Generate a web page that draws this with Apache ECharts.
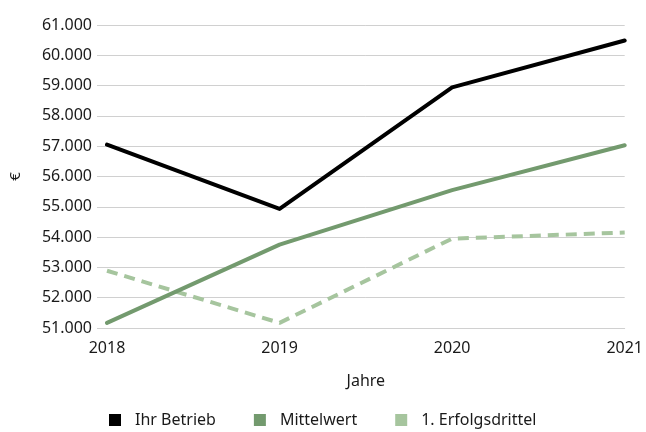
<!DOCTYPE html>
<html>
<head>
<meta charset="utf-8">
<script src="https://cdn.jsdelivr.net/npm/echarts@6/dist/echarts.min.js"></script>
<style>
  html, body { margin: 0; padding: 0; background: #fff; }
  #chart { width: 646px; height: 432px; }
</style>
</head>
<body>
<div id="chart"></div>
<script>
// Jahre auf der x-Achse
const years = ['2018', '2019', '2020', '2021'];

// Werte in Euro
const ihrBetrieb = [57050, 54930, 58940, 60490];
const mittelwert = [51170, 53750, 55550, 57030];
const erfolgsdrittel = [52890, 51170, 53950, 54150];

const seriesNames = ['Ihr Betrieb', 'Mittelwert', '1. Erfolgsdrittel'];

const FONT = '"Noto Sans", "Open Sans", sans-serif';
const COLORS = ['#000000', '#739a6e', '#a6c59e'];

// 61000 -> "61.000"
function fmtDe(v) {
  return String(v).replace(/\B(?=(\d{3})+(?!\d))/g, '.');
}

const chart = echarts.init(document.getElementById('chart'), null, { renderer: 'canvas' });

chart.setOption({
  backgroundColor: '#fff',
  animation: false,
  textStyle: { fontFamily: FONT, color: '#1a1a1a' },
  grid: { left: 101, right: 16, top: 25, bottom: 104, containLabel: false },
  legend: {
    data: seriesNames,
    bottom: -1,
    left: 104,
    icon: 'rect',
    itemWidth: 12,
    itemHeight: 12,
    itemGap: 38,
    textStyle: { fontFamily: FONT, fontSize: 16, color: '#1a1a1a', padding: [0, 0, 0, 9] },
  },
  xAxis: {
    type: 'category',
    data: years,
    boundaryGap: false,
    name: 'Jahre',
    nameLocation: 'middle',
    nameGap: 45,
    nameTextStyle: { fontFamily: FONT, fontSize: 16, color: '#1a1a1a' },
    axisLine: { show: true, lineStyle: { color: '#d0d0d0', width: 1 } },
    axisTick: { show: false },
    axisLabel: { fontFamily: FONT, fontSize: 16, color: '#1a1a1a', margin: 12 },
    splitLine: { show: false },
  },
  yAxis: {
    type: 'value',
    min: 51000,
    max: 61000,
    interval: 1000,
    name: '€',
    nameLocation: 'middle',
    nameGap: 84,
    nameRotate: 90,
    nameTextStyle: { fontFamily: FONT, fontSize: 15, color: '#1a1a1a' },
    axisLine: { show: false },
    axisTick: { show: true, length: 10, lineStyle: { color: '#d0d0d0', width: 1 } },
    axisLabel: { fontFamily: FONT, fontSize: 16, color: '#1a1a1a', margin: 15, formatter: fmtDe },
    splitLine: { lineStyle: { color: '#d0d0d0', width: 1 } },
  },
  series: [
    {
      name: seriesNames[0],
      type: 'line',
      data: ihrBetrieb,
      symbol: 'none',
      itemStyle: { color: COLORS[0] },
      lineStyle: { color: COLORS[0], width: 4, cap: 'round', join: 'round' },
      z: 4,
    },
    {
      name: seriesNames[1],
      type: 'line',
      data: mittelwert,
      symbol: 'none',
      itemStyle: { color: COLORS[1] },
      lineStyle: { color: COLORS[1], width: 4, cap: 'round', join: 'round' },
      z: 3,
    },
    {
      name: seriesNames[2],
      type: 'line',
      data: erfolgsdrittel,
      symbol: 'none',
      itemStyle: { color: COLORS[2] },
      lineStyle: { color: COLORS[2], width: 4, type: [11, 7], join: 'round' },
      z: 2,
    },
  ],
});
</script>
</body>
</html>
